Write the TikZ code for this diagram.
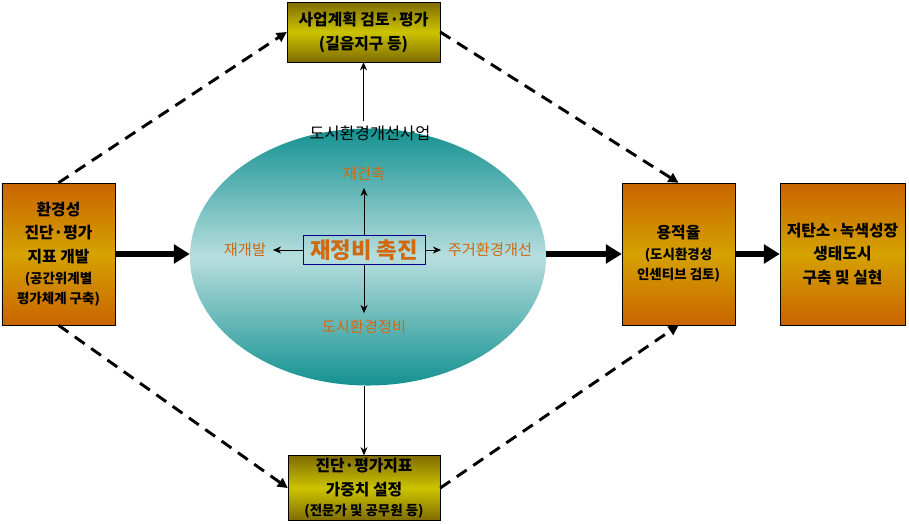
\documentclass[tikz,border=0pt]{standalone}
\usepackage{fontspec}
\setmainfont{Noto Sans CJK KR}
\usetikzlibrary{shapes.geometric,arrows.meta}
\definecolor{ochre}{HTML}{C96400}
\definecolor{gold}{HTML}{D5A200}
\definecolor{olive}{HTML}{7F6C00}
\definecolor{lemon}{HTML}{CCC400}
\definecolor{teal}{HTML}{149191}
\definecolor{mist}{HTML}{B8DEDE}
\definecolor{rust}{HTML}{D06A10}
\newcommand{\smalltxt}[1]{{\fontsize{11.5}{17}\selectfont #1}}
\begin{document}
\begin{tikzpicture}[x=0.03cm,y=-0.03cm,
  obox/.style={draw=black,top color=ochre,bottom color=ochre,middle color=gold,
    minimum width=3.39cm,minimum height=4.26cm,inner sep=0pt,align=center,
    font=\fontsize{13.5}{20}\bfseries},
  ybox/.style={draw=black,top color=olive,bottom color=olive,middle color=lemon,
    inner sep=0pt,align=center,font=\fontsize{13.5}{20.5}\bfseries},
  lbl/.style={text=rust,font=\fontsize{13}{15}\selectfont,inner sep=0.2cm},
  thinarrow/.style={line width=0.7pt,-{Stealth[length=7pt,width=6pt]}},
  bigarrow/.style={line width=5pt,-{Triangle[length=0.48cm,width=0.56cm]}},
  dashlink/.style={line width=2.5pt,dash pattern=on 0.36cm off 0.24cm,-{Triangle[length=0.3cm,width=0.3cm]}}]
\useasboundingbox (0,0) rectangle (909,523);
% ellipse
\node[ellipse,top color=teal,bottom color=teal,middle color=mist,
  minimum width=10.68cm,minimum height=7.71cm] (ell) at (368,257) {};
\node[font=\fontsize{14}{16}\selectfont] (title) at (370,133) {도시환경개선사업};
\node[draw=blue!55!black,line width=0.8pt,minimum width=3.66cm,minimum height=0.87cm,
  text=rust,font=\fontsize{19}{21}\bfseries] (ctr) at (364,250) {재정비 촉진};
\node[lbl] (rebuild) at (364,174) {재건축};
\node[lbl] (redev) at (245,250) {재개발};
\node[lbl] (living) at (490,250) {주거환경개선};
\node[lbl] (urban) at (364,327) {도시환경정비};
\draw[thinarrow] (ctr) -- (rebuild);
\draw[thinarrow] (ctr) -- (redev);
\draw[thinarrow] (ctr) -- (living);
\draw[thinarrow] (ctr) -- (urban);
% boxes
\node[ybox,minimum width=4.59cm,minimum height=1.8cm] (plan) at (363.5,32)
  {사업계획 검토·평가\\(길음지구 등)};
\node[ybox,minimum width=4.56cm,minimum height=1.95cm] (weight) at (364,488)
  {진단·평가지표\\가중치 설정\\[-3pt]\smalltxt{(전문가 및 공무원 등)}};
\node[obox] (diag) at (58.5,254)
  {환경성\\진단·평가\\지표 개발\\[-2pt]\smalltxt{(공간위계별}\\[-3pt]\smalltxt{평가체계 구축)}};
\node[obox] (far) at (678.5,254)
  {용적율\\[-2pt]\smalltxt{(도시환경성}\\[-3pt]\smalltxt{인센티브 검토)}};
\node[obox,minimum width=3.75cm] (eco) at (842.5,254)
  {저탄소·녹색성장\\생태도시\\구축 및 실현};
% links
\draw[thinarrow] (title.north -| plan.south) -- (plan.south);
\draw[thinarrow] (ctr |- ell.south) -- (ctr |- weight.north);
\draw[bigarrow] (diag.east) -- (diag.east -| ell.west);
\draw[bigarrow] (far.west -| ell.east) -- (far.west);
\draw[bigarrow] (far.east) -- (eco.west);
\draw[dashlink] (diag.north) -- (plan.west);
\draw[dashlink] (plan.east) -- (far.north);
\draw[dashlink] (diag.south) -- (weight.west);
\draw[dashlink] (weight.east) -- (far.south);
\end{tikzpicture}
\end{document}
